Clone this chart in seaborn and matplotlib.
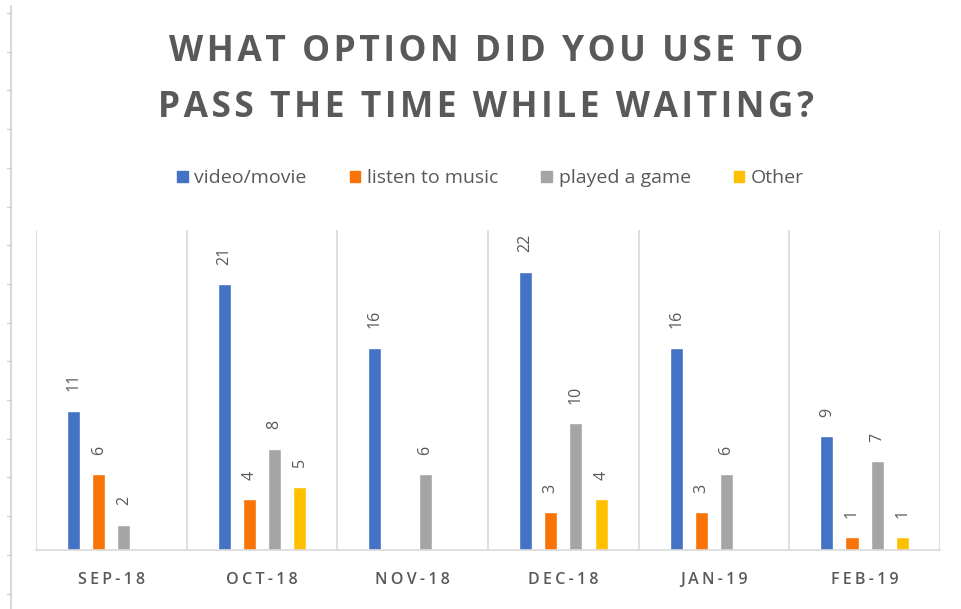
import numpy as np
import pandas as pd
import seaborn as sns
import matplotlib.pyplot as plt
from matplotlib.lines import Line2D

# chart data
months = ['Sep-18', 'Oct-18', 'Nov-18', 'Dec-18', 'Jan-19', 'Feb-19']
options = ['video/movie', 'listen to music', 'played a game', 'Other']
video_movie = [11, 21, 16, 22, 16, 9]
listen_music = [6, 4, 0, 3, 3, 1]
played_game = [2, 8, 6, 10, 6, 7]
other = [0, 5, 0, 4, 0, 1]

colors = ['#4472C4', '#F97306', '#A5A5A5', '#FFC000']
text_grey = '#595959'


def spaced(s, sep='\u200a'):
    # fake letter spacing
    return sep.join(list(s))


df = pd.DataFrame({
    'month': np.repeat(months, len(options)),
    'option': options * len(months),
    'count': np.ravel(np.column_stack([video_movie, listen_music, played_game, other])),
})

sns.set_theme(style='white')
plt.rcParams['font.family'] = ['Open Sans', 'DejaVu Sans']

fig = plt.figure(figsize=(9.62, 6.09), dpi=100)
ax = fig.add_axes([0.0374, 0.0969, 0.9397, 0.5255])

sns.barplot(data=df, x='month', y='count', hue='option', order=months,
            hue_order=options, palette=colors, width=0.67, gap=0.48,
            saturation=1, legend=False, ax=ax)

# data labels, skip the zeros
for cont in ax.containers:
    labels = [f'{int(b.get_height())}' if b.get_height() > 0 else '' for b in cont]
    ax.bar_label(cont, labels=labels, rotation=90, padding=14,
                 fontsize=11.5, color=text_grey)

ax.set_ylim(0, 25.3)
ax.set_xlim(-0.5, len(months) - 0.5)
ax.set_yticks([])
ax.set_xlabel('')
ax.set_ylabel('')
ax.set_xticks(range(len(months)))
ax.set_xticklabels([spaced(m.upper(), '\u2009') for m in months], fontsize=11.5,
                   color=text_grey, fontweight='semibold')
ax.tick_params(axis='x', length=0, pad=16)

ax.set_xticks(np.arange(-0.5, len(months), 1), minor=True)
ax.tick_params(axis='x', which='minor', length=0)
ax.grid(which='minor', axis='x', color='#d9d9d9', linewidth=1.2)
ax.set_axisbelow(True)
for side in ['top', 'left', 'right']:
    ax.spines[side].set_visible(False)
ax.spines['bottom'].set_color('#d9d9d9')
ax.spines['bottom'].set_linewidth(1.2)

# title
fig.text(0.505, 0.914, spaced('WHAT OPTION DID YOU USE TO'), ha='center',
         va='center', fontsize=25.5, fontweight='bold', color=text_grey)
fig.text(0.505, 0.823, spaced('PASS THE TIME WHILE WAITING?'), ha='center',
         va='center', fontsize=25.5, fontweight='bold', color=text_grey)

# legend
handles = [plt.Rectangle((0, 0), 1, 1, color=c) for c in colors]
fig.legend(handles, options, loc='center', bbox_to_anchor=(0.51, 0.707),
           ncol=4, frameon=False, fontsize=14, handlelength=0.55,
           handleheight=0.55, handletextpad=0.35, columnspacing=2.2,
           labelcolor=text_grey)

# faint ruler at the left edge of the screenshot
fig.add_artist(Line2D([0.0114, 0.0114], [0.0, 0.99], color='#d9d9d9', lw=1.5))
for y in np.arange(609 - 13, 0, -38.7):
    fig.add_artist(Line2D([0.0073, 0.0114], [y / 609, y / 609],
                          color='#d0d0d0', lw=1))

fig.savefig('out.png', dpi=100, facecolor='white')
